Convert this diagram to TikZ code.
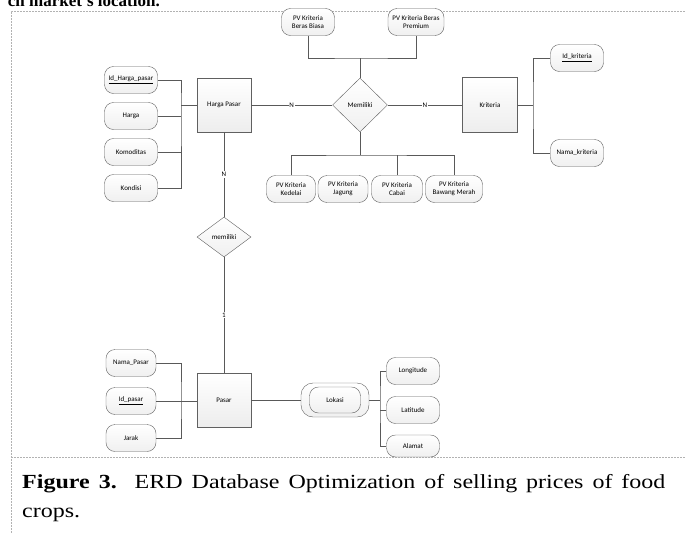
\documentclass[tikz,border=0pt]{standalone}
\usepackage{fontspec}
\setmainfont{Liberation Serif}
\newfontfamily\erdfont{Carlito}
\usetikzlibrary{positioning,shapes.geometric}

\begin{document}
\begin{tikzpicture}[x=1pt,y=-1pt,
    font=\erdfont\fontsize{7}{8}\selectfont,
    entity/.style={draw=gray!75!black, top color=white, bottom color=gray!14,
      minimum width=54pt, minimum height=54pt, inner sep=1pt},
    attr/.style={draw=gray!75!black, top color=white, bottom color=gray!12,
      rounded corners=9pt, minimum width=53pt, minimum height=27pt,
      align=center, inner sep=1pt},
    rel/.style={diamond, draw=gray!75!black, top color=white, bottom color=gray!12,
      inner sep=0pt},
    link/.style={draw=gray!70!black, line width=0.7pt},
    card/.style={fill=white, inner sep=0.8pt},
    frame/.style={draw=gray!60, line width=0.8pt, dash pattern=on 2pt off 1pt},
    printed/.style={font=\rmfamily\fontsize{20}{29}\selectfont, xscale=1.2,
      transform shape, inner sep=0pt}
  ]
    \useasboundingbox (0,0) rectangle (686,533);
    % page frame
    \draw[frame] (11,533) -- (11,11) -- (686,11);
    \draw[frame] (11,457) -- (686,457);
    \node[anchor=base east, inner sep=0pt, font=\rmfamily\bfseries\fontsize{17}{20}\selectfont]
      (prev) at (160,6) {ch market's location.};

    % entities
    \node[entity] (hp) at (224,105) {Harga Pasar};
    \node[entity, minimum width=55pt, minimum height=55pt] (krit) at (490,105) {Kriteria};
    \node[entity] (pasar) at (224,400) {Pasar};

    % relations
    \node[rel, minimum width=55pt, minimum height=54pt] (mem) at (360,105) {Memiliki};
    \node[rel, minimum width=54pt, minimum height=40pt] (mem2) at (224,237) {memiliki};

    % harga pasar attributes
    \node[attr] (idhp) at (131,80) {\underline{Id\_Harga\_pasar}};
    \node[attr] (harga) at (131,116) {Harga};
    \node[attr] (komod) at (131,152) {Komoditas};
    \node[attr] (kondisi) at (131,188) {Kondisi};
    \coordinate (hpbus) at (181,105);

    % memiliki attributes
    \node[attr] (biasa) at (308,22) {PV Kriteria\\Beras Biasa};
    \node[attr, minimum width=56pt] (premium) at (416,22) {PV Kriteria Beras\\Premium};
    \node[attr, minimum width=49pt] (kedelai) at (291,189) {PV Kriteria\\Kedelai};
    \node[attr, minimum width=50pt] (jagung) at (343,189) {PV Kriteria\\Jagung};
    \node[attr, minimum width=51pt] (cabai) at (397,189) {PV Kriteria\\Cabai};
    \node[attr, minimum width=57pt] (bawang) at (454,189) {PV Kriteria\\Bawang Merah};
    \coordinate (topbus) at (360,58);
    \coordinate (botbus) at (360,155);

    % kriteria attributes
    \node[attr] (idk) at (577,58) {\underline{Id\_kriteria}};
    \node[attr] (namak) at (577,153) {Nama\_kriteria};
    \coordinate (kbus) at (533,105);

    % pasar attributes
    \node[attr, minimum width=50pt] (namap) at (131,363) {Nama\_Pasar};
    \node[attr, minimum width=50pt] (idp) at (131,401) {\underline{Id\_pasar}};
    \node[attr, minimum width=50pt] (jarak) at (131,438) {Jarak};
    \coordinate (pbus) at (181,400);

    % lokasi (composite)
    \node[attr, minimum width=68pt, minimum height=34pt, rounded corners=12pt] (lokout) at (335,400) {};
    \node[attr, minimum width=51pt, minimum height=26pt] (lokasi) at (335,400) {Lokasi};
    \node[attr] (longi) at (413,371) {Longitude};
    \node[attr] (lat) at (413,410) {Latitude};
    \node[attr, minimum height=22pt] (alamat) at (413,446) {Alamat};
    \coordinate (lbus) at (380,400);

    % connectors
    \draw[link] (idhp.east) -| (hpbus) |- (kondisi.east);
    \draw[link] (harga.east) -- (harga.east -| hpbus);
    \draw[link] (komod.east) -- (komod.east -| hpbus);
    \draw[link] (hp.west) -- (hpbus);
    \draw[link] (hp.east) -- node[card] {N} (mem.west);
    \draw[link] (mem.east) -- node[card] {N} (krit.west);
    \draw[link] (biasa.south) |- (topbus) -| (premium.south);
    \draw[link] (topbus) -- (mem.north);
    \draw[link] (mem.south) -- (botbus);
    \draw[link] (kedelai.north) |- (botbus) -| (bawang.north);
    \draw[link] (cabai.north) -- (cabai.north |- botbus);
    \draw[link] (idk.west) -| (kbus) |- (namak.west);
    \draw[link] (krit.east) -- (kbus);
    \draw[link] (hp.south) -- node[card] {N} (mem2.north);
    \draw[link] (mem2.south) -- node[card] {1} (pasar.north);
    \draw[link] (namap.east) -| (pbus) |- (jarak.east);
    \draw[link] (idp.east) -- (idp.east -| pasar.west);
    \draw[link] (pasar.east) -- (lokout.west);
    \draw[link] (longi.west) -| (lbus) |- (alamat.west);
    \draw[link] (lokout.east) -- (lbus);
    \draw[link] (lat.west) -- (lat.west -| lbus);

    % caption
    \node[printed, anchor=north west, text width=536pt, align=justify] (caption) at (22,474)
      {\textbf{Figure 3.}\ \ ERD Database Optimization of selling prices of food crops.};
  \end{tikzpicture}
\end{document}
